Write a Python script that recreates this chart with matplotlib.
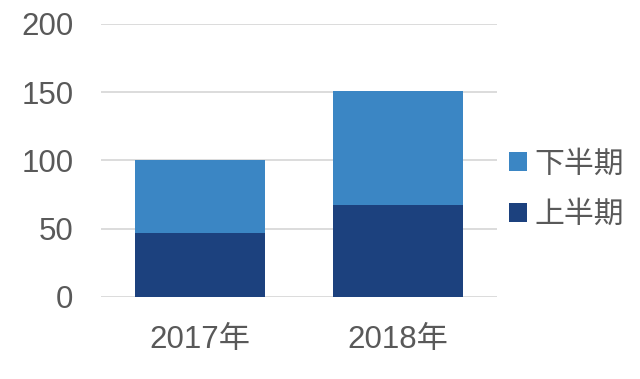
import matplotlib
matplotlib.use('Agg')
import matplotlib.pyplot as plt

plt.rcParams['font.family'] = ['Liberation Sans', 'Noto Sans CJK JP', 'DejaVu Sans']

# 年ごとの上半期・下半期の値
years = ['2017年', '2018年']
first_half = [47, 67]
second_half = [53, 84]
labels = ['上半期', '下半期']
yticks = [0, 50, 100, 150, 200]

dark = '#1C417E'
light = '#3B86C4'
text_color = '#595959'

fig = plt.figure(figsize=(6.4, 3.79), dpi=100)
ax = fig.add_axes([0.158, 0.217, 0.619, 0.72])

x = range(len(years))
ax.bar(x, first_half, width=0.657, color=dark, label=labels[0], zorder=3)
ax.bar(x, second_half, width=0.657, bottom=first_half, color=light,
       label=labels[1], zorder=3)

ax.set_xlim(-0.5, 1.5)
ax.set_ylim(0, 200)
ax.set_yticks(yticks)
ax.set_xticks(list(x))
ax.set_xticklabels(years)
ax.yaxis.grid(True, color='#D9D9D9', linewidth=1.3, zorder=0)
for s in ax.spines.values():
    s.set_visible(False)
ax.tick_params(axis='both', length=0, labelsize=22.5, colors=text_color)
ax.tick_params(axis='y', pad=20)
ax.tick_params(axis='x', pad=20)

handles, lbls = ax.get_legend_handles_labels()
leg = fig.legend(handles[::-1], lbls[::-1], loc='center left',
                 bbox_to_anchor=(0.753, 0.5), frameon=False, fontsize=21.5,
                 handlelength=0.6, handleheight=0.6, handletextpad=0.25,
                 labelspacing=0.75)
for t in leg.get_texts():
    t.set_color(text_color)

fig.savefig('out.png', dpi=100)
plt.close(fig)
